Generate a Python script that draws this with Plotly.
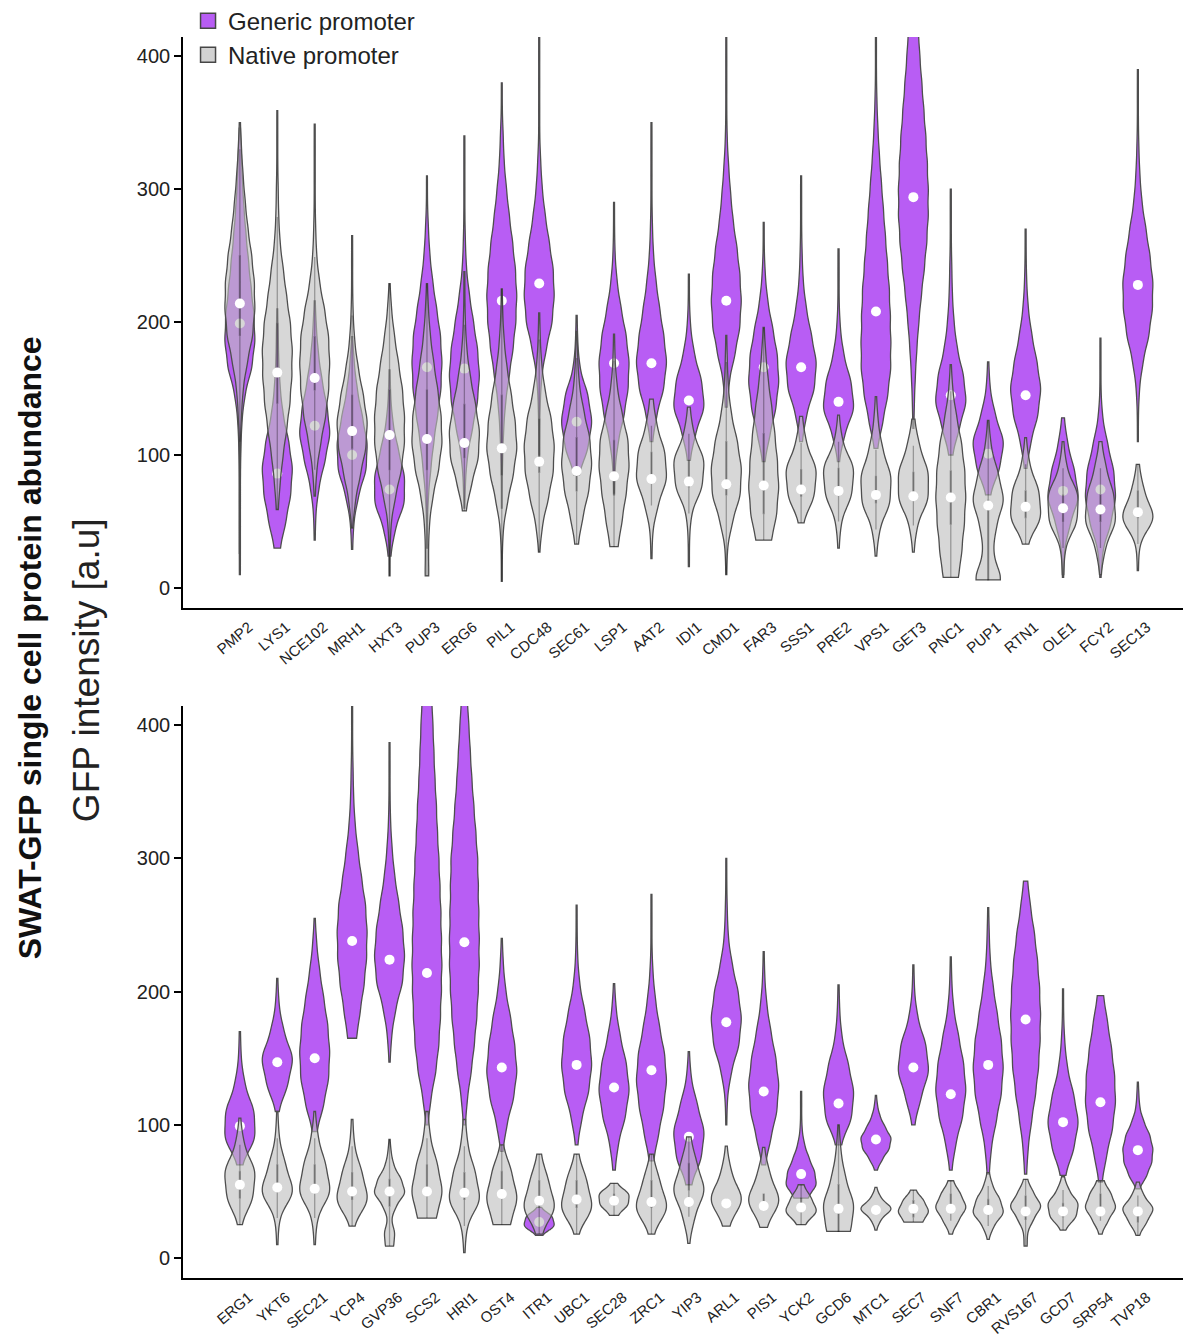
import numpy as np
import plotly.graph_objects as go

# ---------------- data ----------------
TOP_GENES = ["PMP2", "LYS1", "NCE102", "MRH1", "HXT3", "PUP3", "ERG6", "PIL1", "CDC48",
             "SEC61", "LSP1", "AAT2", "IDI1", "CMD1", "FAR3", "SSS1", "PRE2", "VPS1",
             "GET3", "PNC1", "PUP1", "RTN1", "OLE1", "FCY2", "SEC13"]
BOTTOM_GENES = ["ERG1", "YKT6", "SEC21", "YCP4", "GVP36", "SCS2", "HRI1", "OST4", "ITR1",
                "UBC1", "SEC28", "ZRC1", "YIP3", "ARL1", "PIS1", "YCK2", "GCD6", "MTC1",
                "SEC7", "SNF7", "CBR1", "RVS167", "GCD7", "SRP54", "TVP18"]

# medians (white dots)
TOP_GENERIC_MEDIAN = [199, 86, 122, 100, 74, 166, 165, 216, 229, 125, 169, 169, 141, 216,
                      166, 166, 140, 208, 294, 145, 101, 145, 73, 74, 228]
TOP_NATIVE_MEDIAN = [214, 162, 158, 118, 115, 112, 109, 105, 95, 88, 84, 82, 80, 78, 77,
                     74, 73, 70, 69, 68, 62, 61, 60, 59, 57]
BOTTOM_GENERIC_MEDIAN = [99, 147, 150, 238, 224, 214, 237, 143, 27, 145, 128, 141, 91, 177,
                         125, 63, 116, 89, 143, 123, 145, 179, 102, 117, 81]
BOTTOM_NATIVE_MEDIAN = [55, 53, 52, 50, 50, 50, 49, 48, 43, 44, 43, 42, 42, 41, 39, 38, 37,
                        36, 37, 37, 36, 35, 35, 35, 35]

# single-cell intensity frequency tables: lowest level, level spacing, cell counts per level
TOP_GENERIC_LO = [26, 30, 36, 29, 24, 30, 60, 60, 100, 85, 70, 110, 96, 136, 95, 110, 95,
                  105, 120, 100, 70, 90, 8, 8, 110]
TOP_GENERIC_STEP = [20] * 25
TOP_GENERIC_COUNTS = [
    [1, 1, 1, 1, 2, 4, 10, 24, 30, 28, 22, 17, 12, 8, 5, 3, 1],
    [6, 18, 28, 32, 24, 12, 6, 3, 2, 1],
    [1, 2, 8, 20, 30, 24, 14, 7, 3, 1],
    [1, 3, 12, 28, 30, 20, 10, 4, 1],
    [2, 10, 28, 28, 16, 6, 2, 1],
    [1, 1, 3, 8, 14, 22, 29, 31, 28, 20, 12, 6, 3, 1, 1],
    [1, 2, 6, 16, 26, 30, 26, 18, 10, 4, 2, 1, 1, 1, 1],
    [1, 1, 2, 4, 8, 16, 24, 30, 32, 29, 23, 16, 10, 5, 3, 1, 1],
    [1, 1, 2, 5, 14, 26, 30, 28, 20, 12, 6, 3, 1, 1, 1, 1, 1],
    [4, 22, 30, 22, 6, 2, 1],
    [1, 2, 8, 20, 28, 30, 24, 14, 6, 2, 1, 1],
    [2, 10, 24, 30, 24, 16, 9, 4, 2, 1, 1, 1, 1],
    [2, 12, 30, 24, 10, 3, 1, 1],
    [2, 6, 18, 28, 31, 28, 22, 14, 9, 5, 2, 1, 1, 1, 1],
    [2, 12, 24, 30, 27, 18, 8, 3, 1, 1],
    [2, 10, 26, 30, 20, 10, 4, 2, 1, 1, 1],
    [1, 10, 28, 22, 9, 3, 1, 1, 1],
    [3, 14, 24, 30, 30, 29, 27, 23, 19, 15, 11, 7, 4, 2, 1, 1, 1],
    [1, 2, 4, 7, 11, 16, 22, 27, 30, 30, 28, 25, 21, 17, 13, 10, 6],
    [3, 16, 30, 24, 12, 6, 3, 2, 1, 1, 1],
    [3, 20, 28, 12, 3, 1],
    [2, 10, 24, 30, 22, 12, 5, 2, 1, 1],
    [1, 2, 12, 28, 20, 8, 2],
    [1, 4, 20, 30, 26, 14, 4, 1, 1, 1],
    [1, 1, 3, 10, 22, 29, 30, 24, 16, 8, 4, 2, 1, 1, 1],
]
TOP_NATIVE_LO = [10, 59, 69, 45, 9, 9, 58, 5, 27, 33, 31, 22, 16, 10, 36, 49, 30, 24, 27,
                 8, 6, 33, 10, 10, 13]
TOP_NATIVE_STEP = [20] * 25
TOP_NATIVE_COUNTS = [
    [1, 1, 1, 1, 1, 1, 3, 6, 14, 24, 28, 27, 22, 15, 10, 6, 3, 1],
    [2, 6, 12, 20, 27, 31, 32, 28, 20, 13, 6, 3, 2, 1, 1, 1],
    [1, 4, 12, 22, 28, 30, 28, 20, 10, 4, 2, 1, 1, 1, 1],
    [1, 6, 16, 27, 30, 22, 12, 5, 2, 1, 1, 1],
    [1, 1, 3, 12, 24, 30, 30, 26, 18, 10, 4, 1],
    [4, 3, 5, 12, 24, 31, 29, 22, 14, 7, 3, 1],
    [3, 14, 28, 30, 22, 12, 5, 2, 1, 1],
    [1, 1, 3, 12, 24, 32, 28, 20, 11, 5, 2, 1],
    [1, 6, 18, 28, 30, 24, 12, 5, 2, 1],
    [3, 12, 24, 30, 26, 14, 5, 2, 1],
    [8, 16, 24, 30, 28, 16, 6, 2, 1],
    [1, 2, 12, 30, 26, 10, 3],
    [1, 1, 4, 24, 28, 8, 2],
    [1, 2, 12, 28, 30, 22, 10, 4, 2, 1],
    [16, 26, 30, 27, 22, 16, 9, 4, 1],
    [3, 22, 26, 8, 2],
    [1, 4, 22, 26, 6, 1],
    [1, 6, 26, 28, 12, 4, 1],
    [1, 6, 26, 26, 10, 2],
    [16, 22, 27, 30, 28, 22, 12, 4, 1],
    [26, 8, 14, 29, 18, 5, 1],
    [3, 26, 22, 6, 1],
    [1, 3, 24, 26, 6, 1],
    [1, 8, 28, 24, 10, 2],
    [1, 2, 30, 10, 2],
]
BOTTOM_GENERIC_LO = [70, 110, 95, 165, 147, 100, 100, 80, 17, 85, 66, 73, 55, 100, 70, 45,
                     85, 66, 100, 66, 63, 63, 62, 57, 52]
BOTTOM_GENERIC_STEP = [20, 20, 20, 20, 20, 20, 20, 20, 7, 20, 20, 20, 20, 20, 20, 10,
                       20, 8, 20, 20, 20, 20, 20, 20, 10]
BOTTOM_GENERIC_COUNTS = [
    [3, 26, 24, 8, 2, 1],
    [2, 20, 31, 12, 3, 1],
    [4, 18, 28, 30, 26, 18, 10, 4, 1],
    [9, 16, 24, 29, 30, 27, 19, 12, 6, 3, 2, 1, 1, 1],
    [1, 4, 12, 26, 30, 26, 18, 10, 5, 2, 1, 1, 1],
    [2, 8, 18, 24, 27, 29, 30, 29, 28, 26, 24, 21, 19, 16, 14, 12, 10],
    [2, 6, 14, 20, 25, 28, 30, 30, 29, 28, 27, 23, 19, 15, 12, 9, 6],
    [2, 10, 24, 31, 26, 18, 8, 3, 1],
    [4, 26, 22, 2],
    [2, 10, 24, 30, 26, 16, 6, 2, 1, 1],
    [2, 8, 22, 30, 24, 12, 4, 1],
    [4, 14, 24, 30, 26, 16, 8, 3, 1, 1, 1],
    [4, 24, 30, 16, 4, 1],
    [1, 2, 10, 26, 31, 24, 12, 4, 2, 1, 1],
    [3, 14, 26, 30, 24, 14, 6, 2, 1],
    [12, 28, 24, 14, 6, 2, 1, 1, 1],
    [4, 24, 28, 18, 6, 2, 1],
    [2, 12, 26, 30, 18, 8, 3, 1],
    [2, 14, 30, 24, 8, 2, 1],
    [2, 10, 24, 31, 26, 16, 6, 2, 1],
    [2, 6, 16, 26, 30, 26, 18, 10, 4, 2, 1],
    [2, 5, 12, 20, 26, 29, 30, 28, 24, 18, 10, 4],
    [4, 20, 29, 20, 8, 3, 1, 1],
    [3, 12, 24, 30, 28, 22, 14, 6],
    [3, 18, 28, 30, 24, 12, 4, 2, 1],
]
BOTTOM_NATIVE_LO = [25, 10, 10, 24, 9, 30, 4, 25, 18, 18, 32, 18, 11, 24, 23, 25, 20, 21,
                    27, 18, 14, 9, 21, 18, 17]
BOTTOM_NATIVE_STEP = [20, 20, 20, 20, 10, 20, 20, 20, 20, 20, 8, 20, 20, 20, 20, 10, 20, 8,
                      8, 10, 10, 10, 10, 10, 10]
BOTTOM_NATIVE_COUNTS = [
    [2, 20, 24, 6, 1],
    [1, 3, 30, 14, 3, 1],
    [1, 4, 30, 20, 6, 1],
    [2, 24, 14, 3, 1],
    [8, 10, 3, 12, 30, 22, 8, 3, 1],
    [18, 30, 20, 6, 2],
    [1, 4, 30, 20, 6, 2],
    [16, 30, 18, 2],
    [4, 30, 16, 3],
    [2, 30, 18, 3],
    [6, 24, 26, 4],
    [3, 30, 14, 2],
    [1, 10, 30, 14, 3],
    [4, 30, 8, 1],
    [4, 30, 10, 1],
    [6, 30, 18, 4],
    [22, 28, 12, 4, 1],
    [1, 8, 30, 8, 1],
    [18, 30, 20, 4],
    [2, 14, 30, 18, 4],
    [1, 10, 30, 22, 8, 2],
    [3, 3, 14, 30, 14, 3],
    [3, 24, 28, 10, 2],
    [2, 14, 30, 20, 6],
    [2, 16, 30, 10, 2],
]

LEGEND_LABELS = ["Generic promoter", "Native promoter"]
Y_TICKS = [0, 100, 200, 300, 400]

# ---------------- styles ----------------
PURPLE = "rgb(184,93,244)"
GREY_FILL = "rgba(190,190,190,0.62)"
GREY_INNER = "rgba(0,0,0,0.30)"
OUTLINE = "rgb(78,78,78)"
FONT = "Liberation Sans, Arial, Helvetica, sans-serif"


def expand(lo, step, counts):
    levels = lo + step * np.arange(len(counts))
    return np.repeat(levels, counts).astype(float)


fig = go.Figure()


def add_set(genes, los, steps, counts, medians, xa, ya, fill, show_inner):
    for g, lo, st, ct in zip(genes, los, steps, counts):
        y = expand(lo, st, ct)
        fig.add_trace(go.Violin(
            x=[g] * len(y), y=y, xaxis=xa, yaxis=ya,
            width=0.8, scalemode="width", spanmode="hard", bandwidth=st * 0.5,
            fillcolor=fill, line=dict(color=OUTLINE, width=1.3),
            points=False, meanline=dict(visible=False),
            box=dict(visible=show_inner, width=0.03, fillcolor=GREY_INNER,
                     line=dict(color=GREY_INNER, width=1.3)),
            showlegend=False, hoverinfo="skip"))
    fig.add_trace(go.Scatter(
        x=genes, y=medians, xaxis=xa, yaxis=ya, mode="markers",
        marker=dict(color="white", size=10, line=dict(width=0)),
        showlegend=False, hoverinfo="skip"))


# generic (purple) on base axes, native (grey, translucent) on overlay axes drawn above
add_set(TOP_GENES, TOP_GENERIC_LO, TOP_GENERIC_STEP, TOP_GENERIC_COUNTS,
        TOP_GENERIC_MEDIAN, "x", "y", PURPLE, False)
add_set(TOP_GENES, TOP_NATIVE_LO, TOP_NATIVE_STEP, TOP_NATIVE_COUNTS,
        TOP_NATIVE_MEDIAN, "x2", "y2", GREY_FILL, True)
add_set(BOTTOM_GENES, BOTTOM_GENERIC_LO, BOTTOM_GENERIC_STEP, BOTTOM_GENERIC_COUNTS,
        BOTTOM_GENERIC_MEDIAN, "x3", "y3", PURPLE, False)
add_set(BOTTOM_GENES, BOTTOM_NATIVE_LO, BOTTOM_NATIVE_STEP, BOTTOM_NATIVE_COUNTS,
        BOTTOM_NATIVE_MEDIAN, "x4", "y4", GREY_FILL, True)

# legend entries
for name, col in zip(LEGEND_LABELS, [PURPLE, "rgb(210,210,210)"]):
    fig.add_trace(go.Scatter(
        x=[None], y=[None], xaxis="x", yaxis="y", mode="markers", name=name,
        marker=dict(symbol="square", size=15, color=col,
                    line=dict(color="rgb(70,70,70)", width=1.5))))

XR = [-1.52, 25.42]
YR = [-15, 414.5]
TOP_DOM = [0.54, 1.0]
BOT_DOM = [0.0, 0.461]


def xaxis_base(genes, anchor):
    return dict(type="category", categoryorder="array", categoryarray=genes,
                range=XR, anchor=anchor, domain=[0, 1], showline=True,
                linecolor="black", linewidth=1.6, ticks="", showgrid=False,
                zeroline=False, tickangle=-40, automargin=False,
                ticklabelshift=9, ticklabelstandoff=3,
                tickfont=dict(size=15, color="#222", family=FONT))


def yaxis_base(dom, anchor):
    return dict(range=YR, domain=dom, anchor=anchor, showline=True, linecolor="black",
                linewidth=1.6, ticks="outside", ticklen=7, tickwidth=1.6,
                tickcolor="black", tickvals=Y_TICKS, showgrid=False, zeroline=False,
                automargin=False, tickfont=dict(size=20, color="#222", family=FONT))


def xaxis_ov(genes, over, anchor):
    return dict(type="category", categoryorder="array", categoryarray=genes,
                range=XR, overlaying=over, anchor=anchor, visible=False)


def yaxis_ov(over, anchor):
    return dict(range=YR, overlaying=over, anchor=anchor, visible=False)


# the page body adds an 8px offset, so the figure is sized/margined to compensate
fig.update_layout(
    width=1183, height=1330,
    margin=dict(l=175, r=0, t=29, b=60, autoexpand=False),
    paper_bgcolor="white", plot_bgcolor="white",
    violinmode="overlay",
    font=dict(family=FONT, color="#222"),
    xaxis=xaxis_base(TOP_GENES, "y"),
    yaxis=yaxis_base(TOP_DOM, "x"),
    xaxis2=xaxis_ov(TOP_GENES, "x", "y2"),
    yaxis2=yaxis_ov("y", "x2"),
    xaxis3=xaxis_base(BOTTOM_GENES, "y3"),
    yaxis3=yaxis_base(BOT_DOM, "x3"),
    xaxis4=xaxis_ov(BOTTOM_GENES, "x3", "y4"),
    yaxis4=yaxis_ov("y3", "x4"),
    showlegend=True,
    legend=dict(x=0.005, y=1.031, xanchor="left", yanchor="top",
                font=dict(size=24, family=FONT, color="#222"),
                bgcolor="rgba(0,0,0,0)", tracegroupgap=0, itemwidth=30),
    annotations=[
        dict(text="GFP intensity [a.u]", xref="paper", yref="paper",
             x=-0.095, y=0.49, xanchor="center", yanchor="middle", textangle=-90,
             showarrow=False, font=dict(size=37, family=FONT, color="#222")),
        dict(text="<b>SWAT-GFP single cell protein abundance</b>", xref="paper",
             yref="paper", x=-0.152, y=0.508, xanchor="center", yanchor="middle",
             textangle=-90, showarrow=False,
             font=dict(size=32, family=FONT, color="#111")),
    ],
)

fig.write_html("out.html")
